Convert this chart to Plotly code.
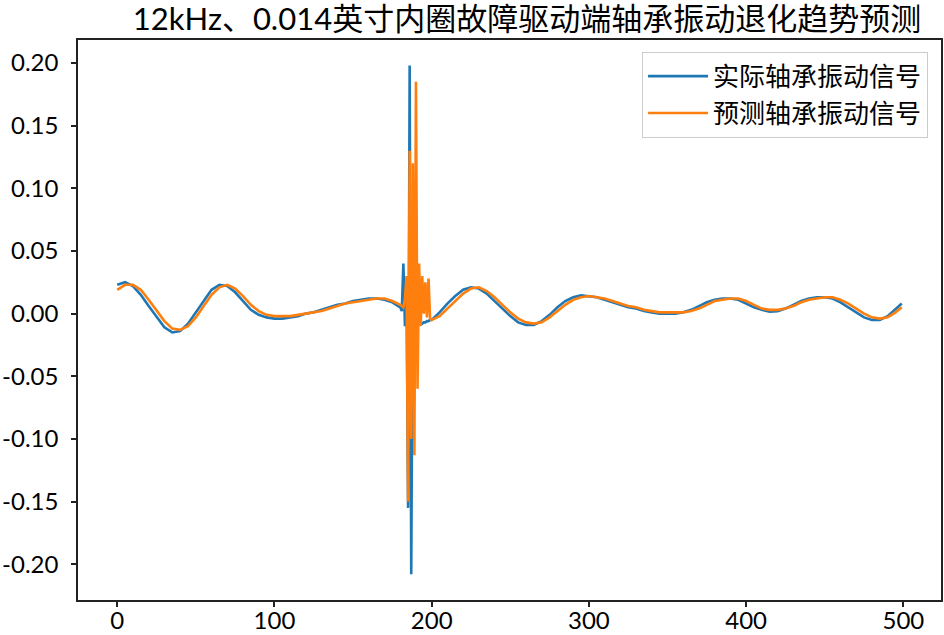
import plotly.graph_objects as go

# 横轴采样点（平滑段每5个点取一个，冲击段逐点）
x_left = list(range(0, 181, 5))
x_spike = list(range(181, 200))
x_right = list(range(200, 496, 5)) + [499]
x_vals = x_left + x_spike + x_right

# 实际轴承振动信号
actual_left = [0.023, 0.025, 0.022, 0.015, 0.006, -0.003, -0.011, -0.015, -0.014, -0.008,
               0.001, 0.011, 0.019, 0.023, 0.022, 0.017, 0.010, 0.003, -0.001, -0.003,
               -0.004, -0.004, -0.003, -0.002, 0.000, 0.001, 0.003, 0.005, 0.007, 0.008,
               0.010, 0.011, 0.012, 0.012, 0.011, 0.009, 0.005]
actual_spike = [0.002, 0.040, -0.010, 0.025, -0.155, 0.198, -0.208, 0.040, -0.020, 0.008,
                -0.004, -0.006, -0.007, -0.008, -0.007, -0.007, -0.006, -0.006, -0.005]
actual_right = [-0.005, 0.001, 0.008, 0.014, 0.019, 0.021, 0.020, 0.016, 0.010, 0.004,
                -0.002, -0.007, -0.009, -0.009, -0.006, -0.001, 0.005, 0.010, 0.013, 0.0145,
                0.014, 0.013, 0.011, 0.009, 0.007, 0.005, 0.004, 0.002, 0.001, 0.000,
                0.000, 0.000, 0.001, 0.003, 0.006, 0.009, 0.011, 0.012, 0.012, 0.011,
                0.008, 0.005, 0.003, 0.0015, 0.002, 0.004, 0.007, 0.010, 0.012, 0.013,
                0.013, 0.012, 0.009, 0.005, 0.001, -0.003, -0.005, -0.005, -0.002, 0.004,
                0.008]

# 预测轴承振动信号
pred_left = [0.019, 0.023, 0.023, 0.019, 0.011, 0.002, -0.006, -0.012, -0.013, -0.010,
             -0.003, 0.006, 0.015, 0.021, 0.023, 0.020, 0.014, 0.007, 0.002, -0.001,
             -0.002, -0.002, -0.002, -0.001, 0.000, 0.001, 0.002, 0.004, 0.006, 0.008,
             0.009, 0.010, 0.011, 0.012, 0.012, 0.010, 0.007]
pred_spike = [0.006, 0.005, 0.012, 0.030, -0.150, 0.130, -0.100, 0.120, -0.113, 0.185,
              -0.060, 0.040, -0.010, 0.030, 0.000, 0.025, -0.003, 0.028, -0.004]
pred_right = [-0.005, -0.002, 0.004, 0.010, 0.016, 0.020, 0.021, 0.018, 0.013, 0.007,
              0.001, -0.004, -0.007, -0.008, -0.007, -0.003, 0.002, 0.007, 0.011, 0.013,
              0.014, 0.013, 0.012, 0.010, 0.008, 0.006, 0.005, 0.003, 0.002, 0.001,
              0.001, 0.001, 0.001, 0.002, 0.004, 0.007, 0.010, 0.011, 0.012, 0.012,
              0.010, 0.007, 0.004, 0.003, 0.003, 0.004, 0.006, 0.009, 0.011, 0.012,
              0.013, 0.013, 0.011, 0.008, 0.004, 0.000, -0.003, -0.004, -0.003, 0.001,
              0.005]

actual = actual_left + actual_spike + actual_right
pred = pred_left + pred_spike + pred_right

y_ticks = [-0.20, -0.15, -0.10, -0.05, 0.00, 0.05, 0.10, 0.15, 0.20]
y_ticktext = ["-0.20", "-0.15", "-0.10", "-0.05", "0.00", "0.05", "0.10", "0.15", "0.20"]
x_ticks = [0, 100, 200, 300, 400, 500]

title_text = "12kHz、0.014英寸内圈故障驱动端轴承振动退化趋势预测"
name_actual = "实际轴承振动信号"
name_pred = "预测轴承振动信号"

font_main = "Lato, Noto Sans CJK SC, sans-serif"

fig = go.Figure()
fig.add_trace(go.Scatter(x=x_vals, y=actual, mode="lines", name=name_actual,
                         line=dict(color="#1f77b4", width=2.6)))
fig.add_trace(go.Scatter(x=x_vals, y=pred, mode="lines", name=name_pred,
                         line=dict(color="#ff7f0e", width=2.6)))

axis_common = dict(showgrid=False, zeroline=False, showline=True, mirror=True,
                   automargin=False, linecolor="#222222", linewidth=1.5,
                   ticks="outside", ticklen=5, tickwidth=1.5, tickcolor="#222222",
                   tickfont=dict(family=font_main, size=24, color="black"))

fig.update_layout(
    template="none",
    width=944, height=635,
    margin=dict(l=78, r=3, t=40, b=35, autoexpand=False),
    plot_bgcolor="white", paper_bgcolor="white",
    title=dict(text=title_text, x=527 / 944, xanchor="center", xref="container",
               y=0.970, yanchor="middle", yref="container",
               font=dict(family=font_main, size=31, color="black")),
    xaxis=dict(range=[-24.95, 523.95], tickvals=x_ticks, ticklabelstandoff=-7, **axis_common),
    yaxis=dict(range=[-0.2285, 0.2183], tickvals=y_ticks, ticktext=y_ticktext,
               ticklabelstandoff=8, **axis_common),
    legend=dict(x=0.985, y=0.979, xanchor="right", yanchor="top", itemwidth=60,
                bgcolor="rgba(255,255,255,0.9)", bordercolor="#cccccc", borderwidth=1,
                font=dict(family="Noto Sans CJK SC", size=26, color="black")),
    showlegend=True,
)

# 去掉页面 body 默认的 8px 边距，隐藏工具栏
fig.write_html("out.html", config={"displayModeBar": False},
               post_script="document.body.style.margin='0';")
